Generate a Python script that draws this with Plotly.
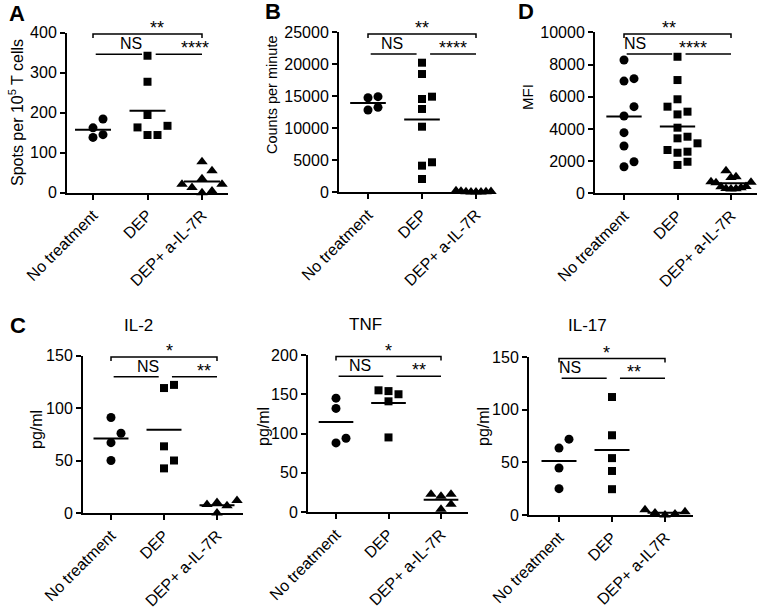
import numpy as np
import plotly.graph_objects as go

W, H = 760, 611
FONT = "Liberation Sans, Arial, sans-serif"

# ---------------- data ----------------
categories = ["No treatment", "DEP", "DEP+ a-IL-7R"]
categories_il17 = ["No treatment", "DEP", "DEP+ a-IL7R"]

# A: ELISpot spots per 10^5 T cells
a_no_treatment = [184, 162, 145, 138]
a_dep = [342, 277, 194, 167, 163, 144, 144]
a_dep_il7r = [77, 55, 35, 21, 21, 13, 4, 0]
a_ticks = [0, 100, 200, 300, 400]

# B: proliferation, counts per minute
b_no_treatment = [14940, 14780, 13280, 12860]
b_dep = [20250, 18480, 14940, 14580, 13020, 10250, 4690, 4160, 2080]
b_dep_il7r = [250, 200, 160, 130, 100, 80, 60, 50, 40]
b_ticks = [0, 5000, 10000, 15000, 20000, 25000]

# D: MFI
d_no_treatment = [8280, 7120, 6970, 5380, 4800, 3765, 2940, 1960, 1650]
d_dep = [8480, 7035, 5840, 5380, 5070, 4900, 4075, 3515, 3415, 3105,
         2690, 2585, 2520, 1960, 1760]
d_dep_il7r = [1400, 1030, 980, 720, 690, 650, 420, 400, 350, 300, 280, 260]
d_ticks = [0, 2000, 4000, 6000, 8000, 10000]

# C: cytokines, pg/ml
il2_no_treatment = [91, 76, 67, 50]
il2_dep = [122, 119, 63.5, 50, 42.5]
il2_dep_il7r = [12, 10, 8, 7, 0]
il2_ticks = [0, 50, 100, 150]

tnf_no_treatment = [145, 132, 94, 88]
tnf_dep = [155, 154, 150, 141, 95]
tnf_dep_il7r = [22.5, 22.5, 20, 10, 3.4]
tnf_ticks = [0, 50, 100, 150, 200]

il17_no_treatment = [72, 63.5, 44.6, 25]
il17_dep = [112, 75.7, 54, 41.8, 24.5]
il17_dep_il7r = [5, 3, 2, 1, 0]
il17_ticks = [0, 50, 100, 150]

sig_top_ABD = ["**", "NS", "****"]
sig_C = ["*", "NS", "**"]

# ---------------- layout geometry (pixels) ----------------
panels = [
    dict(groups=[a_no_treatment, a_dep, a_dep_il7r], ticks=a_ticks, cats=categories,
         sig=sig_top_ABD, left=67, right=228, cat0=93, step=54.5, y0=192.7, ytop=32.5,
         ytitle="Spots per 10<sup>5</sup> T cells", ytx=16, yty=113, yts=16,
         letter="A", lx=17, ly=13, title=None),
    dict(groups=[b_no_treatment, b_dep, b_dep_il7r], ticks=b_ticks, cats=categories,
         sig=sig_top_ABD, left=339, right=494, cat0=368, step=54, y0=192.3, ytop=32.3,
         ytitle="Counts per minute", ytx=272, yty=95, yts=14.5,
         letter="B", lx=273, ly=12, title=None),
    dict(groups=[d_no_treatment, d_dep, d_dep_il7r], ticks=d_ticks, cats=categories,
         sig=sig_top_ABD, left=595, right=757, cat0=624, step=53.5, y0=193.3, ytop=32.3,
         ytitle="MFI", ytx=527, yty=97, yts=15,
         letter="D", lx=526, ly=12, title=None),
    dict(groups=[il2_no_treatment, il2_dep, il2_dep_il7r], ticks=il2_ticks, cats=categories,
         sig=sig_C, left=83, right=243, cat0=111, step=53, y0=513, ytop=355.5,
         ytitle="pg/ml", ytx=36, yty=430, yts=16,
         letter="C", lx=18, ly=325, title="IL-2", tx=138, ty=325),
    dict(groups=[tnf_no_treatment, tnf_dep, tnf_dep_il7r], ticks=tnf_ticks, cats=categories,
         sig=sig_C, left=308, right=468, cat0=336, step=52.5, y0=512, ytop=355,
         ytitle="pg/ml", ytx=263, yty=427, yts=16,
         letter=None, title="TNF", tx=365, ty=324),
    dict(groups=[il17_no_treatment, il17_dep, il17_dep_il7r], ticks=il17_ticks, cats=categories_il17,
         sig=sig_C, left=529, right=693, cat0=559, step=53, y0=515, ytop=357,
         ytitle="pg/ml", ytx=483, yty=427, yts=16,
         letter=None, title="IL-17", tx=587, ty=325),
]

symbols = ["circle", "square", "triangle-up"]
msizes = [9, 8, 10]


def swarm(values, px_per_unit, px_per_cat, diam=9.5, step=10.0, max_half=20.0):
    vals = np.asarray(values, dtype=float)
    order = np.argsort(vals, kind="stable")
    placed = []
    offs = np.zeros(len(vals))
    cands = [0.0] + [s * j * step for j in range(1, 30) for s in (1, -1)]
    for idx in order:
        y = vals[idx] * px_per_unit
        for dx in cands:
            if all((dx - px) ** 2 + (y - py) ** 2 >= diam ** 2 for px, py in placed):
                break
        placed.append((dx, y))
        offs[idx] = dx
    m = np.max(np.abs(offs)) if len(offs) else 0
    if m > max_half:
        offs = offs * max_half / m
    return offs / px_per_cat


fig = go.Figure()
layout = dict(width=W, height=H, margin=dict(l=0, r=0, t=0, b=0, pad=0, autoexpand=False),
              template="none",
              paper_bgcolor="white", plot_bgcolor="white", showlegend=False,
              font=dict(family=FONT, color="black"))
shapes = []
annotations = []

for i, p in enumerate(panels, start=1):
    xn = "x" if i == 1 else f"x{i}"
    yn = "y" if i == 1 else f"y{i}"
    xkey = "xaxis" if i == 1 else f"xaxis{i}"
    ykey = "yaxis" if i == 1 else f"yaxis{i}"
    top = p["ticks"][-1]
    ppu = (p["y0"] - p["ytop"]) / top
    xr = [(p["left"] - p["cat0"]) / p["step"], (p["right"] - p["cat0"]) / p["step"]]

    layout[xkey] = dict(domain=[p["left"] / W, p["right"] / W], range=xr, anchor=yn,
                        automargin=False,
                        tickmode="array", tickvals=[0, 1, 2], ticktext=p["cats"],
                        tickangle=-45, ticks="outside", ticklen=5, tickwidth=2,
                        tickcolor="black",
                        showline=True, linewidth=2, linecolor="black",
                        showgrid=False, zeroline=False,
                        tickfont=dict(size=16, family=FONT, color="black"))
    layout[ykey] = dict(domain=[1 - p["y0"] / H, 1 - p["ytop"] / H], range=[0, top],
                        anchor=xn, automargin=False,
                        tickmode="array", tickvals=p["ticks"],
                        ticktext=[str(t) for t in p["ticks"]],
                        ticks="outside", ticklen=5, tickwidth=2, tickcolor="black",
                        showline=True, linewidth=2, linecolor="black",
                        showgrid=False, zeroline=False,
                        tickfont=dict(size=16, family=FONT, color="black"))

    for g, vals in enumerate(p["groups"]):
        offs = swarm(vals, ppu, p["step"])
        fig.add_trace(go.Scatter(x=g + offs, y=vals, mode="markers", xaxis=xn, yaxis=yn,
                                 cliponaxis=False,
                                 marker=dict(symbol=symbols[g], size=msizes[g], color="black",
                                             line=dict(width=0))))
        m = float(np.mean(vals))
        fig.add_trace(go.Scatter(x=[g - 0.33, g + 0.33], y=[m, m], mode="lines",
                                 xaxis=xn, yaxis=yn, cliponaxis=False,
                                 line=dict(color="black", width=2)))

    def px(cat):
        return (p["cat0"] + cat * p["step"]) / W

    def py(val):
        return 1 - (p["y0"] - val * ppu) / H

    lvl_top = 0.99 * top
    lvl_low = 0.865 * top
    tick = 4 / H
    shapes.append(dict(type="path", xref="paper", yref="paper",
                       path=f"M {px(0)},{py(lvl_top) - tick} L {px(0)},{py(lvl_top)} "
                            f"L {px(2)},{py(lvl_top)} L {px(2)},{py(lvl_top) - tick}",
                       line=dict(color="black", width=1.5)))
    shapes.append(dict(type="line", xref="paper", yref="paper",
                       x0=px(0.05), x1=px(0.9), y0=py(lvl_low), y1=py(lvl_low),
                       line=dict(color="black", width=1.5)))
    shapes.append(dict(type="line", xref="paper", yref="paper",
                       x0=px(1.15), x1=px(2.0), y0=py(lvl_low), y1=py(lvl_low),
                       line=dict(color="black", width=1.5)))
    s_top, s_ns, s_right = p["sig"]
    annotations.append(dict(x=px(1.0), y=py(lvl_top), xref="paper", yref="paper",
                            text=s_top, showarrow=False, yanchor="bottom", yshift=-6,
                            font=dict(size=18, family=FONT)))
    annotations.append(dict(x=px(0.45), y=py(lvl_low), xref="paper", yref="paper",
                            text=s_ns, showarrow=False, yanchor="bottom", yshift=0,
                            font=dict(size=16, family=FONT)))
    annotations.append(dict(x=px(1.58), y=py(lvl_low), xref="paper", yref="paper",
                            text=s_right, showarrow=False, yanchor="bottom", yshift=-6,
                            font=dict(size=18, family=FONT)))

    annotations.append(dict(x=p["ytx"] / W, y=1 - p["yty"] / H, xref="paper", yref="paper",
                            text=p["ytitle"], textangle=-90, showarrow=False,
                            xanchor="center", yanchor="middle",
                            font=dict(size=p["yts"], family=FONT)))
    if p["letter"]:
        annotations.append(dict(x=p["lx"] / W, y=1 - p["ly"] / H, xref="paper", yref="paper",
                                text=f"<b>{p['letter']}</b>", showarrow=False,
                                xanchor="center", yanchor="middle",
                                font=dict(size=22, family=FONT)))
    if p["title"]:
        annotations.append(dict(x=p["tx"] / W, y=1 - p["ty"] / H, xref="paper", yref="paper",
                                text=p["title"], showarrow=False,
                                xanchor="center", yanchor="middle",
                                font=dict(size=17, family=FONT)))

layout["shapes"] = shapes
layout["annotations"] = annotations
fig.update_layout(**layout)
fig.write_html("out.html", config={"displayModeBar": False},
               post_script="document.body.style.margin='0';document.body.style.padding='0';")
